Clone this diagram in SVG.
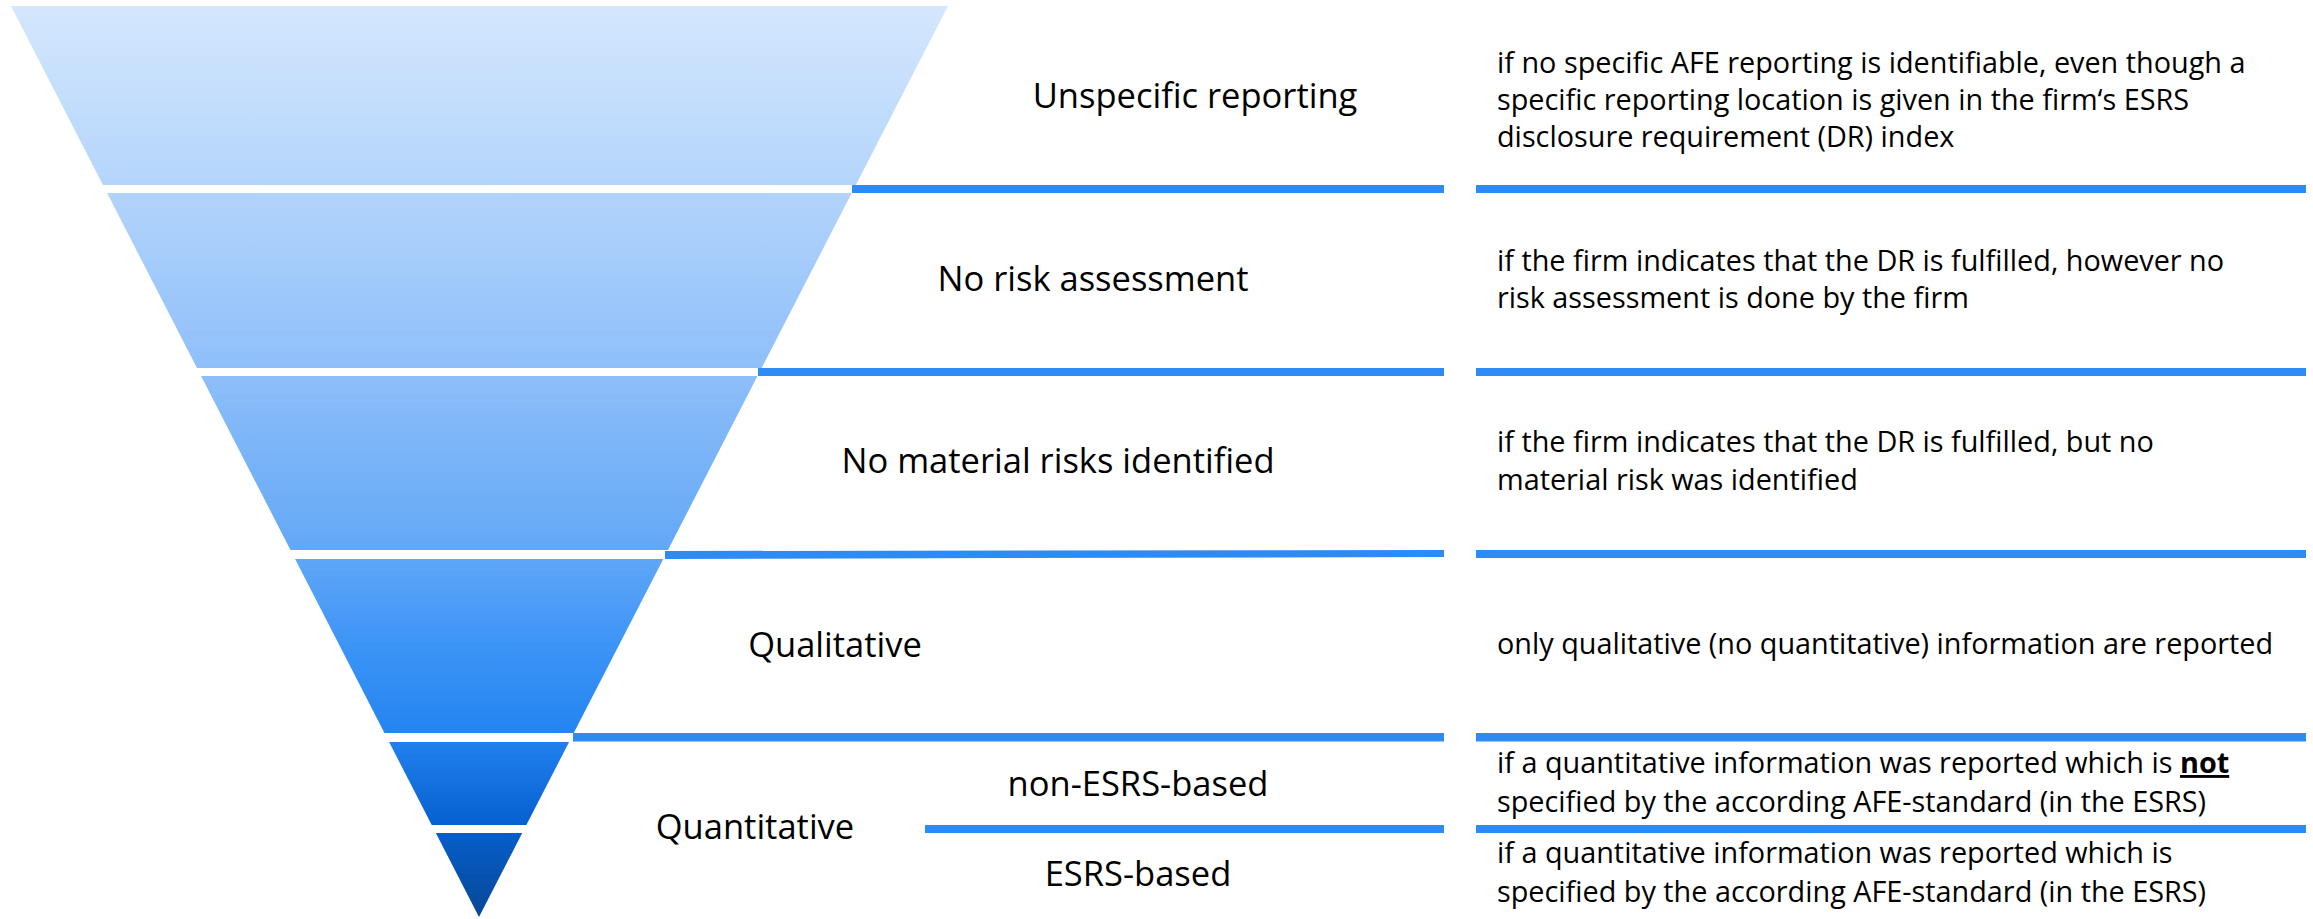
<svg xmlns="http://www.w3.org/2000/svg" width="2313" height="919" viewBox="0 0 2313 919">
<defs>
<linearGradient id="funnel" gradientUnits="userSpaceOnUse" x1="0" y1="6" x2="0" y2="917">
<stop offset="0" stop-color="#D4E7FD"/>
<stop offset="0.196" stop-color="#B4D5FB"/>
<stop offset="0.397" stop-color="#8FBFF9"/>
<stop offset="0.597" stop-color="#63A8F6"/>
<stop offset="0.707" stop-color="#3B93F6"/>
<stop offset="0.798" stop-color="#2484F0"/>
<stop offset="0.899" stop-color="#0660D0"/>
<stop offset="1" stop-color="#084796"/>
</linearGradient>
<style>
.seg{fill:url(#funnel);}
.hd{font-family:"Open Sans","Liberation Sans",sans-serif;font-size:34.5px;fill:#000;text-anchor:middle;}
.ds{font-family:"Open Sans","Liberation Sans",sans-serif;font-size:28.8px;fill:#000;}
.ln{fill:#2E8BF6;}
</style>
</defs>
<rect width="2313" height="919" fill="#fff"/>

<g id="node-unspecific">
<polygon class="seg" points="11,6 948,6 855.85,185 102.96,185"/>
<text class="hd" x="1195" y="108">Unspecific reporting</text>
<text class="ds" x="1497" y="72.5">if no specific AFE reporting is identifiable, even though a</text>
<text class="ds" x="1497" y="109.5">specific reporting location is given in the firm‘s ESRS</text>
<text class="ds" x="1497" y="146.5">disclosure requirement (DR) index</text>
</g>

<g id="node-no-risk-assessment">
<polygon class="seg" points="107.07,193 851.73,193 761.64,368 196.97,368"/>
<text class="hd" x="1093" y="291">No risk assessment</text>
<text class="ds" x="1497" y="271">if the firm indicates that the DR is fulfilled, however no</text>
<text class="ds" x="1497" y="308">risk assessment is done by the firm</text>
</g>

<g id="node-no-material-risks">
<polygon class="seg" points="201.08,376 757.52,376 667.94,550 290.46,550"/>
<text class="hd" x="1058" y="473">No material risks identified</text>
<text class="ds" x="1497" y="452">if the firm indicates that the DR is fulfilled, but no</text>
<text class="ds" x="1497" y="490">material risk was identified</text>
</g>

<g id="node-qualitative">
<polygon class="seg" points="295.09,559 663.30,559 573.73,733 384.47,733"/>
<text class="hd" x="835" y="657">Qualitative</text>
<text class="ds" x="1497" y="654">only qualitative (no quantitative) information are reported</text>
</g>

<g id="node-quantitative">
<text class="hd" x="755" y="839">Quantitative</text>
</g>

<g id="node-non-esrs-based">
<polygon class="seg" points="389.10,742 569.09,742 526.36,825 431.74,825"/>
<text class="hd" x="1138" y="796">non-ESRS-based</text>
<text class="ds" x="1497" y="773">if a quantitative information was reported which is <tspan font-weight="bold" text-decoration="underline">not</tspan></text>
<text class="ds" x="1497" y="812">specified by the according AFE-standard (in the ESRS)</text>
</g>

<g id="node-esrs-based">
<polygon class="seg" points="435.85,833 522.24,833 479,917"/>
<text class="hd" x="1138" y="886">ESRS-based</text>
<text class="ds" x="1497" y="863">if a quantitative information was reported which is</text>
<text class="ds" x="1497" y="902">specified by the according AFE-standard (in the ESRS)</text>
</g>

<g id="connectors">
<rect class="ln" x="852" y="185" width="592" height="8"/>
<rect class="ln" x="1476" y="185" width="830" height="8"/>
<rect class="ln" x="758" y="368" width="686" height="8"/>
<rect class="ln" x="1476" y="368" width="830" height="8"/>
<polygon class="ln" points="665,551 1444,550 1444,557 665,559"/>
<rect class="ln" x="1476" y="550" width="830" height="8"/>
<rect class="ln" x="573" y="733" width="871" height="8.5"/>
<rect class="ln" x="1476" y="733" width="830" height="8.5"/>
<rect class="ln" x="925" y="825" width="519" height="8"/>
<rect class="ln" x="1476" y="825" width="830" height="8"/>
</g>
</svg>
